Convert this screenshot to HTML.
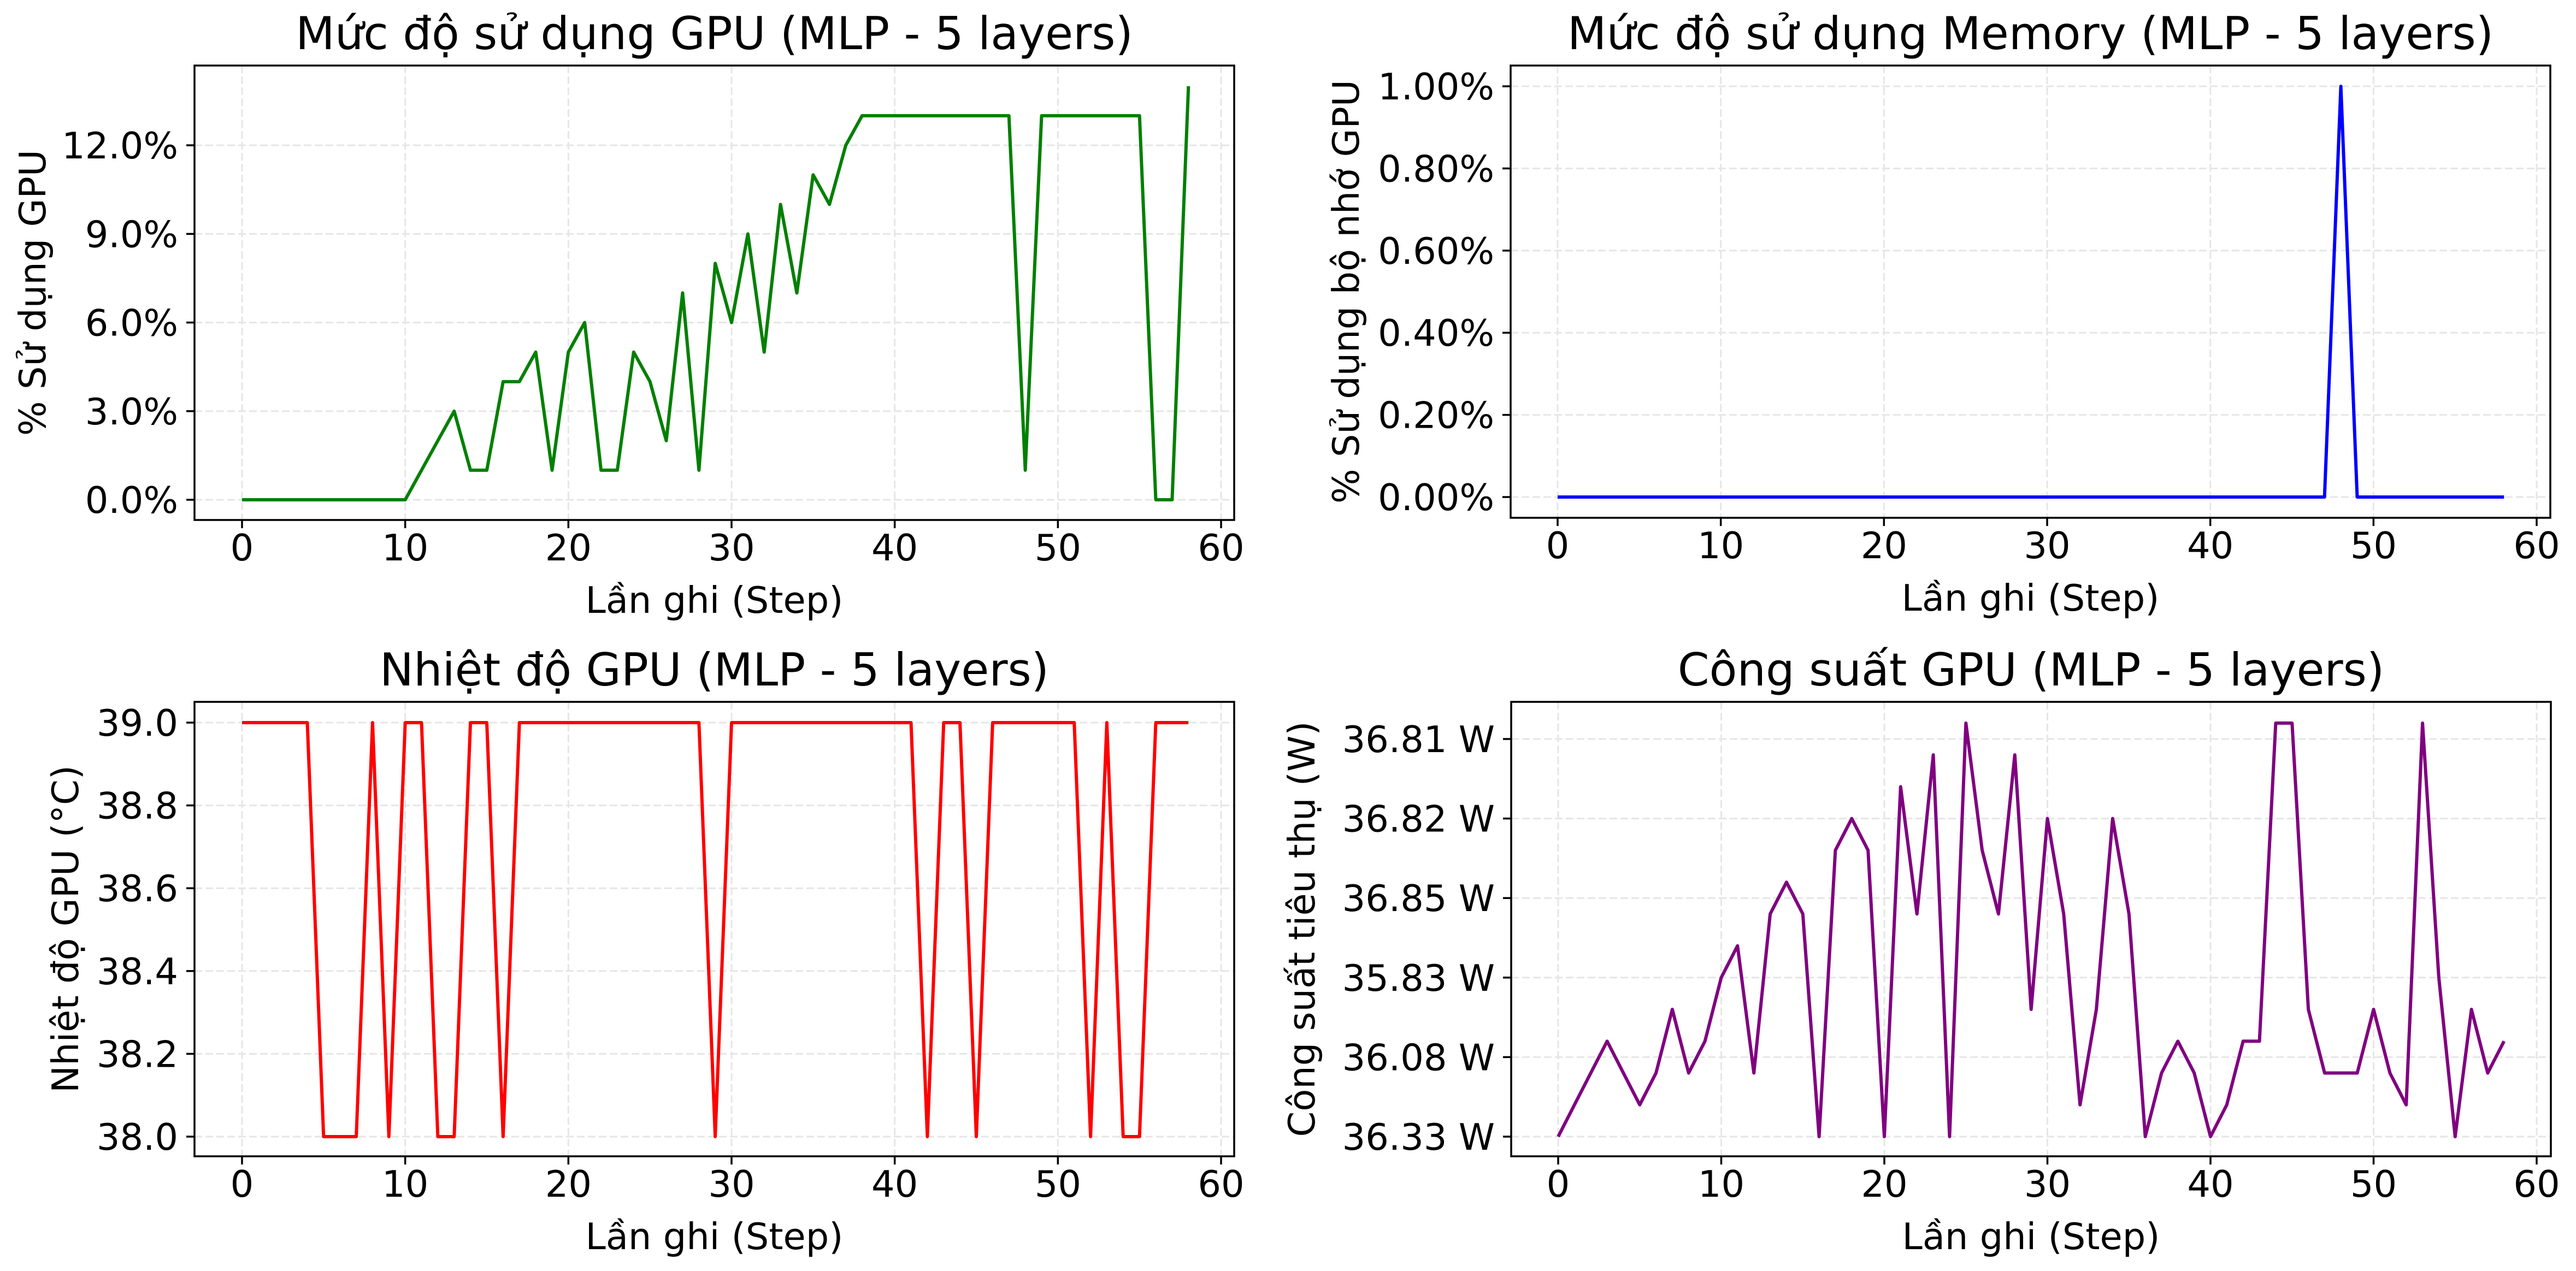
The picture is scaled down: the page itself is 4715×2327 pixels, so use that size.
<!DOCTYPE html>
<html><head><meta charset="utf-8"><style>
html,body{margin:0;padding:0;background:#fff;}
svg{display:block;font-family:"DejaVu Sans","Liberation Sans",sans-serif;}
</style></head><body>
<svg id="fig" width="4715" height="2327" viewBox="0 0 4715 2327" xmlns="http://www.w3.org/2000/svg">
<rect width="4715" height="2327" fill="#fff"/>
</svg>
<script>
const steps = Array.from({length:59},(_,i)=>i);
const gpuUtil = [0,0,0,0,0,0,0,0,0,0,0,1,2,3,1,1,4,4,5,1,5,6,1,1,5,4,2,7,1,8,6,9,5,10,7,11,10,12,13,13,13,13,13,13,13,13,13,13,1,13,13,13,13,13,13,13,0,0,14];
const memUtil = [0,0,0,0,0,0,0,0,0,0,0,0,0,0,0,0,0,0,0,0,0,0,0,0,0,0,0,0,0,0,0,0,0,0,0,0,0,0,0,0,0,0,0,0,0,0,0,0,1.0,0,0,0,0,0,0,0,0,0,0];
const tempVals = [39,39,39,39,39,38,38,38,39,38,39,39,38,38,39,39,38,39,39,39,39,39,39,39,39,39,39,39,39,38,39,39,39,39,39,39,39,39,39,39,39,39,38,39,39,38,39,39,39,39,39,39,38,39,38,38,39,39,39];
const powerVals = [0,0.4,0.8,1.2,0.8,0.4,0.8,1.6,0.8,1.2,2.0,2.4,0.8,2.8,3.2,2.8,0,3.6,4.0,3.6,0,4.4,2.8,4.8,0,5.2,3.6,2.8,4.8,1.6,4.0,2.8,0.4,1.6,4.0,2.8,0,0.8,1.2,0.8,0,0.4,1.2,1.2,5.2,5.2,1.6,0.8,0.8,0.8,1.6,0.8,0.4,5.2,2.0,0,1.6,0.8,1.2];
const xTicks = [0,10,20,30,40,50,60];
const gpuTicks = [0,3,6,9,12];
const gpuTickLabels = ["0.0%","3.0%","6.0%","9.0%","12.0%"];
const memTicks = [0,0.2,0.4,0.6,0.8,1.0];
const memTickLabels = ["0.00%","0.20%","0.40%","0.60%","0.80%","1.00%"];
const tempTicks = [38.0,38.2,38.4,38.6,38.8,39.0];
const tempTickLabels = ["38.0","38.2","38.4","38.6","38.8","39.0"];
const powerTicks = [0,1,2,3,4,5];
const powerTickLabels = ["36.33 W","36.08 W","35.83 W","36.85 W","36.82 W","36.81 W"];

const NS="http://www.w3.org/2000/svg";
const svg=document.getElementById('fig');
function mk(tag,attrs,parent){const e=document.createElementNS(NS,tag);for(const k in attrs)e.setAttribute(k,attrs[k]);(parent||svg).appendChild(e);return e;}

function panel(o){
  const g=mk('g',{});
  
  
  const sx=v=>o.x0+(v-0)*(o.x60-o.x0)/60;
  const sy=v=>o.ya+(v-o.va)*(o.yb-o.ya)/(o.vb-o.va);
  xTicks.forEach(t=>{const l=mk('line',{x1:sx(t),x2:sx(t),y1:o.top,y2:o.bot,stroke:'#e6e6e6','stroke-width':3,'stroke-dasharray':'14 6'},g);
    });
  o.yt.forEach(t=>{const l=mk('line',{x1:o.left,x2:o.right,y1:sy(t),y2:sy(t),stroke:'#e6e6e6','stroke-width':3,'stroke-dasharray':'14 6'},g);
    });
  const pts=steps.map((s,i)=>sx(s).toFixed(1)+','+sy(o.data[i]).toFixed(1)).join(' ');
  const pl=mk('polyline',{points:pts,fill:'none',stroke:o.color,'stroke-width':6,'stroke-linejoin':'round'},g);
  
  
  const fr=mk('rect',{x:o.left,y:o.top,width:o.right-o.left,height:o.bot-o.top,fill:'none',stroke:'#000','stroke-width':3.5},g);
  
  xTicks.forEach(t=>{mk('line',{x1:sx(t),x2:sx(t),y1:o.bot,y2:o.bot+15,stroke:'#000','stroke-width':3.5},g);
    const tx=mk('text',{x:sx(t),y:o.bot+74,'font-size':67,'text-anchor':'middle',fill:'#000'},g);tx.textContent=t;
    });
  o.yt.forEach((t,i)=>{mk('line',{x1:o.left-15,x2:o.left,y1:sy(t),y2:sy(t),stroke:'#000','stroke-width':3.5},g);
    const tx=mk('text',{x:o.left-30,y:sy(t)+24,'font-size':67,'text-anchor':'end',fill:'#000'},g);tx.textContent=o.yl[i];
    });
  const ti=mk('text',{x:(o.left+o.right)/2,y:o.top-30,'font-size':83,'text-anchor':'middle',fill:'#000'},g);ti.textContent=o.title;
  
  const xl=mk('text',{x:(o.left+o.right)/2,y:o.bot+170,'font-size':67,'text-anchor':'middle',fill:'#000'},g);xl.textContent='Lần ghi (Step)';
  
  const cy=(o.top+o.bot)/2;
  const yl=mk('text',{x:o.ylx,y:cy,'font-size':67,'text-anchor':'middle',fill:'#000',transform:`rotate(-90 ${o.ylx} ${cy})`},g);yl.textContent=o.ylabel;
  
}
panel({name:'gpu-utilization-chart',left:356,right:2259,top:120,bot:952,x0:443,x60:2235,ya:915,va:0,yb:266,vb:12,data:gpuUtil,color:'#008000',yt:gpuTicks,yl:gpuTickLabels,title:'Mức độ sử dụng GPU (MLP - 5 layers)',ylabel:'% Sử dụng GPU',ylx:83});
panel({name:'memory-utilization-chart',left:2765,right:4668,top:120,bot:948,x0:2851,x60:4643,ya:910,va:0,yb:158,vb:1,data:memUtil,color:'#0000ff',yt:memTicks,yl:memTickLabels,title:'Mức độ sử dụng Memory (MLP - 5 layers)',ylabel:'% Sử dụng bộ nhớ GPU',ylx:2487});
panel({name:'temperature-chart',left:356,right:2259,top:1285,bot:2117,x0:443,x60:2235,ya:2081,va:38,yb:1323,vb:39,data:tempVals,color:'#ff0000',yt:tempTicks,yl:tempTickLabels,title:'Nhiệt độ GPU (MLP - 5 layers)',ylabel:'Nhiệt độ GPU (°C)',ylx:143});
panel({name:'power-chart',left:2766,right:4669,top:1285,bot:2117,x0:2852,x60:4643,ya:2081,va:0,yb:1353,vb:5,data:powerVals,color:'#800080',yt:powerTicks,yl:powerTickLabels,title:'Công suất GPU (MLP - 5 layers)',ylabel:'Công suất tiêu thụ (W)',ylx:2406});
</script>
</body></html>
